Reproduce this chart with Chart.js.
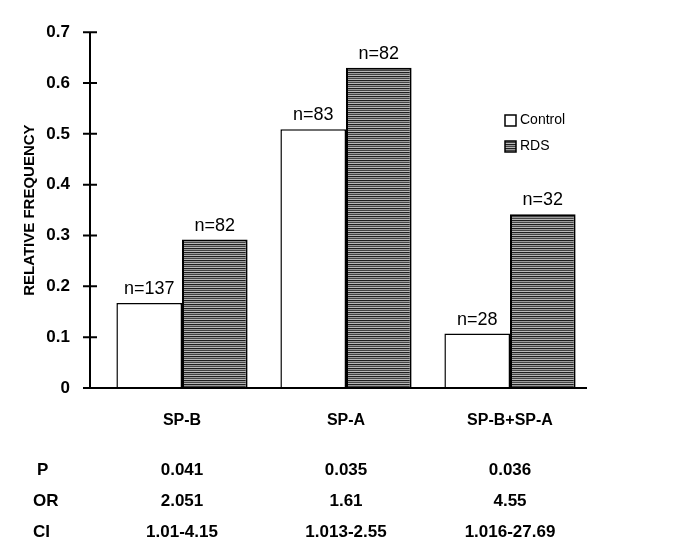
<!DOCTYPE html>
<html>
<head>
<meta charset="utf-8">
<script src="https://cdn.jsdelivr.net/npm/chart.js@4.4.1/dist/chart.umd.min.js"></script>
<style>
  html, body { margin: 0; padding: 0; background: #fff; }
  #wrap { width: 685px; height: 554px; }
</style>
</head>
<body>
<div id="wrap"><canvas id="myChart" width="685" height="554"></canvas></div>
<script>
// Categories and series values
const categories = ['SP-B', 'SP-A', 'SP-B+SP-A'];
const controlValues = [0.167, 0.509, 0.107];
const rdsValues = [0.292, 0.63, 0.342];
const controlN = ['n=137', 'n=83', 'n=28'];
const rdsN = ['n=82', 'n=82', 'n=32'];
// Statistics table under the axis
const rowLabels = ['P', 'OR', 'CI'];
const pValues = ['0.041', '0.035', '0.036'];
const orValues = ['2.051', '1.61', '4.55'];
const ciValues = ['1.01-4.15', '1.013-2.55', '1.016-27.69'];
const yTicks = [0, 0.1, 0.2, 0.3, 0.4, 0.5, 0.6, 0.7];

const FONT = '"Liberation Sans", Arial, Helvetica, sans-serif';

// Horizontal striped fill for the RDS bars
function makeStripes() {
    const c = document.createElement('canvas');
    c.width = 4;
    c.height = 4;
    const g = c.getContext('2d');
    const rows = ['#1e1e1e', '#9a9a9a', '#444444', '#b8b8b8'];
    rows.forEach((col, i) => {
        g.fillStyle = col;
        g.fillRect(0, i, 4, 1);
    });
    return g.createPattern(c, 'repeat');
}

const ctx = document.getElementById('myChart').getContext('2d');
const stripes = makeStripes();

// Draws the axis lines with cross ticks, bar labels, legend and table
const extras = {
    id: 'extras',
    afterDatasetsDraw(chart) {
        const g = chart.ctx;
        const x = chart.scales.x;
        const y = chart.scales.y;
        const axisX = chart.chartArea.left - 10;
        const y0 = y.getPixelForValue(0);
        g.save();
        g.strokeStyle = '#000';
        g.lineWidth = 2;
        g.beginPath();
        g.moveTo(axisX, y.getPixelForValue(0.7));
        g.lineTo(axisX, y0);
        g.moveTo(axisX - 7, y0);
        g.lineTo(chart.chartArea.right - 5, y0);
        yTicks.forEach(v => {
            const py = y.getPixelForValue(v);
            g.moveTo(axisX - 7, py);
            g.lineTo(axisX + 7, py);
        });
        g.stroke();

        // n= labels above bars
        g.fillStyle = '#000';
        g.font = '18px ' + FONT;
        g.textAlign = 'center';
        g.textBaseline = 'bottom';
        const nLabels = [controlN, rdsN];
        chart.data.datasets.forEach((ds, di) => {
            chart.getDatasetMeta(di).data.forEach((bar, i) => {
                g.fillText(nLabels[di][i], bar.x, bar.y - 5);
            });
        });

        // Legend
        g.font = '14px ' + FONT;
        g.textAlign = 'left';
        g.textBaseline = 'middle';
        const legX = 505;
        const legY = [120, 146];
        chart.data.datasets.forEach((ds, di) => {
            g.fillStyle = ds.backgroundColor;
            g.fillRect(legX, legY[di] - 5, 11, 11);
            g.lineWidth = 1.5;
            g.strokeStyle = '#000';
            g.strokeRect(legX, legY[di] - 5, 11, 11);
            g.fillStyle = '#000';
            g.fillText(ds.label, legX + 15, legY[di]);
        });

        // Category labels and statistics table
        g.font = 'bold 16px ' + FONT;
        g.textAlign = 'center';
        categories.forEach((cat, i) => g.fillText(cat, x.getPixelForValue(i), 421));
        g.font = 'bold 17px ' + FONT;
        const rows = [pValues, orValues, ciValues];
        const rowY = [470, 501, 532];
        categories.forEach((cat, i) => {
            const px = x.getPixelForValue(i);
            rows.forEach((r, ri) => g.fillText(r[i], px, rowY[ri]));
        });
        g.textAlign = 'left';
        rowLabels.forEach((lab, ri) => g.fillText(lab, lab === 'P' ? 37 : 33, rowY[ri]));
        g.restore();
    }
};

new Chart(ctx, {
    type: 'bar',
    data: {
        labels: categories,
        datasets: [
            {
                label: 'Control',
                data: controlValues,
                backgroundColor: '#ffffff',
                borderColor: '#000000',
                borderWidth: 1.5,
                borderSkipped: 'bottom'
            },
            {
                label: 'RDS',
                data: rdsValues,
                backgroundColor: stripes,
                borderColor: '#000000',
                borderWidth: 2,
                borderSkipped: 'bottom'
            }
        ]
    },
    options: {
        responsive: false,
        animation: false,
        devicePixelRatio: 1,
        layout: { padding: { top: 28, right: 93, bottom: 0, left: 0 } },
        categoryPercentage: 0.8,
        barPercentage: 1.0,
        plugins: {
            legend: { display: false },
            tooltip: { enabled: false }
        },
        scales: {
            x: {
                grid: { display: false },
                border: { display: false },
                ticks: { display: false },
                afterFit: scale => { scale.height = 166; }
            },
            y: {
                min: 0,
                max: 0.7,
                grid: { display: false },
                border: { display: false },
                ticks: {
                    stepSize: 0.1,
                    padding: 22,
                    color: '#000',
                    font: { family: FONT, size: 17, weight: 'bold' },
                    callback: v => (v === 0 ? '0' : v.toFixed(1))
                },
                title: {
                    display: true,
                    text: 'RELATIVE FREQUENCY',
                    color: '#000',
                    font: { family: FONT, size: 15, weight: 'bold' },
                    padding: { top: 21, bottom: 0 }
                },
                afterFit: scale => { scale.width = 100; }
            }
        }
    },
    plugins: [extras]
});
</script>
</body>
</html>
